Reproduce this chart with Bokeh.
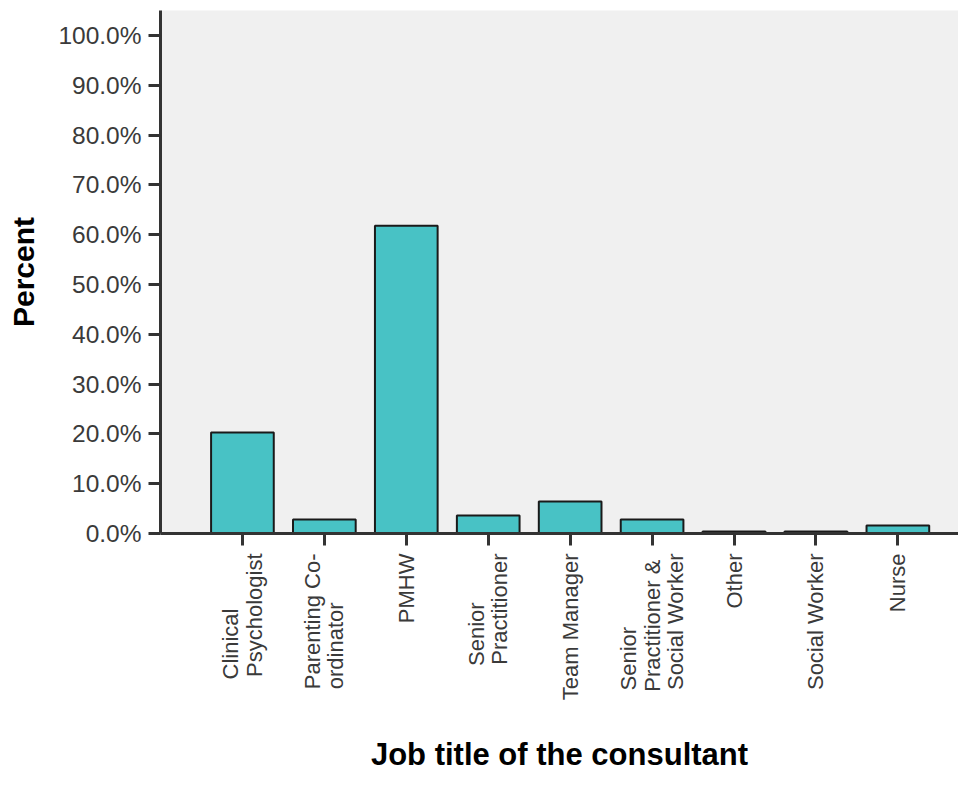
from bokeh.plotting import figure
from bokeh.models import ColumnDataSource, FixedTicker, PrintfTickFormatter, Range1d
from bokeh.embed import file_html
from bokeh.resources import INLINE
import math

categories = ["Clinical\nPsychologist", "Parenting Co-\nordinator", "PMHW", "Senior\nPractitioner",
              "Team Manager", "Senior\nPractitioner &\nSocial Worker", "Other", "Social Worker", "Nurse"]
percents = [20.3, 2.8, 61.8, 3.6, 6.4, 2.8, 0.4, 0.4, 1.6]
y_ticks = [0, 10, 20, 30, 40, 50, 60, 70, 80, 90, 100]

# trailing no-break spaces per line so that the lines of each label start together
label_pad = [[9, 0], [0, 8], [0], [8, 0], [0], [12, 1, 0], [0], [0], [0]]
NBSP = "\u00a0"
tick_labels = ["\n".join(line + NBSP * n for line, n in zip(cat.split("\n"), pads))
               for cat, pads in zip(categories, label_pad)]

positions = list(range(1, len(categories) + 1))
src = ColumnDataSource(dict(x=positions, top=percents))

p = figure(width=958, height=790, output_backend="svg", toolbar_location=None,
           x_range=Range1d(0, 9.74), y_range=Range1d(0, 105))
p.min_border_left = 160
p.min_border_top = 10
p.min_border_right = 0
p.min_border_bottom = 257
p.background_fill_color = "#f0f0f0"
p.border_fill_color = "white"
p.outline_line_color = None
p.xgrid.visible = False
p.ygrid.visible = False

p.vbar(x="x", top="top", width=0.765, bottom=0, source=src,
       fill_color="#48c2c5", line_color="#1a1a1a", line_width=2)

font = "Liberation Sans"
# y axis
ya = p.yaxis[0]
ya.ticker = FixedTicker(ticks=y_ticks)
ya.formatter = PrintfTickFormatter(format="%.1f%%")
ya.axis_label = "Percent"
ya.axis_label_text_font = font
ya.axis_label_text_font_style = "bold"
ya.axis_label_text_font_size = "30px"
ya.axis_label_text_color = "black"
ya.axis_label_standoff = 15
ya.major_label_text_font = font
ya.major_label_text_font_size = "24.5px"
ya.major_label_text_color = "#3a3a3a"
ya.major_label_standoff = 7
ya.axis_line_width = 3
ya.axis_line_color = "#333333"
ya.major_tick_line_width = 3
ya.major_tick_line_color = "#333333"
ya.major_tick_out = 12
ya.major_tick_in = 0
ya.minor_tick_line_color = None

# x axis
xa = p.xaxis[0]
xa.ticker = FixedTicker(ticks=positions)
xa.major_label_overrides = {pos: lab for pos, lab in zip(positions, tick_labels)}
xa.major_label_orientation = math.pi / 2
xa.major_label_text_line_height = 0.93
xa.axis_label = "Job title of the consultant"
xa.axis_label_text_font = font
xa.axis_label_text_font_style = "bold"
xa.axis_label_text_font_size = "31px"
xa.axis_label_text_color = "black"
xa.axis_label_standoff = 34
xa.major_label_text_font = font
xa.major_label_text_font_size = "22px"
xa.major_label_text_color = "#3a3a3a"
xa.major_label_standoff = 8
xa.axis_line_width = 3
xa.axis_line_color = "#333333"
xa.major_tick_line_width = 3
xa.major_tick_line_color = "#333333"
xa.major_tick_out = 12
xa.major_tick_in = 0
xa.minor_tick_line_color = None

open("out.html", "w").write(file_html(p, INLINE))
